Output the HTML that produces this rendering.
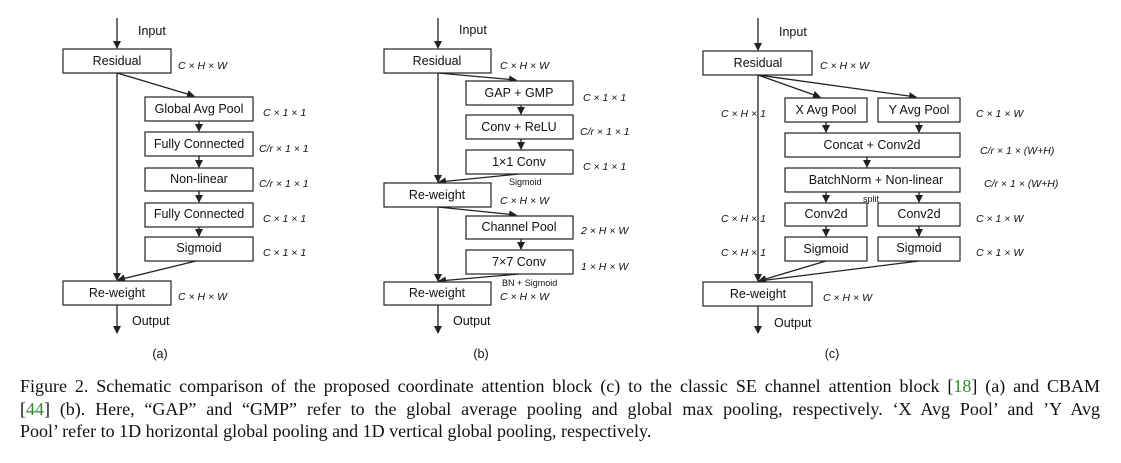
<!DOCTYPE html>
<html><head><meta charset="utf-8"><style>
body{margin:0;background:#fff;width:1121px;height:463px;overflow:hidden;position:relative}
svg{position:absolute;left:0;top:0}
text{font-family:"Liberation Sans",Arial,sans-serif;fill:#111}
.b{font-size:12.5px}
.l{font-size:10.5px;font-style:italic}
.s{font-size:9px}
rect{fill:#fff;stroke:#222;stroke-width:1.2}
line{stroke:#222;stroke-width:1.3}
#cap{position:absolute;left:20px;top:375px;width:1080px;font-family:"Liberation Serif","Times New Roman",serif;font-size:18px;line-height:22.5px;color:#111}
#cap div{white-space:nowrap;text-align:justify;text-align-last:justify}
#cap div.last{text-align:left;text-align-last:left}
#cap span{color:#2a8a2a}
</style></head><body>
<svg width="1121" height="463" viewBox="0 0 1121 463">
<defs><marker id="a" markerWidth="8" markerHeight="8" refX="7" refY="4" orient="auto" markerUnits="userSpaceOnUse"><path d="M0,0 L8,4 L0,8 z" fill="#222"/></marker></defs>
<!-- (a) -->
<line x1="117" y1="18" x2="117" y2="48" marker-end="url(#a)"/>
<text class="b" x="138" y="35">Input</text>
<rect x="63" y="49" width="108" height="24"/><text class="b" x="117" y="65" text-anchor="middle">Residual</text>
<text class="l" x="178" y="69">C × H × W</text>
<line x1="117" y1="73" x2="117" y2="280" marker-end="url(#a)"/>
<line x1="117" y1="73" x2="194" y2="96" marker-end="url(#a)"/>
<rect x="145" y="97" width="108" height="24"/><text class="b" x="199" y="113" text-anchor="middle">Global Avg Pool</text><text class="l" x="263" y="116">C × 1 × 1</text>
<line x1="199" y1="121" x2="199" y2="131" marker-end="url(#a)"/>
<rect x="145" y="132" width="108" height="24"/><text class="b" x="199" y="148" text-anchor="middle">Fully Connected</text><text class="l" x="259" y="152">C/r × 1 × 1</text>
<line x1="199" y1="156" x2="199" y2="167" marker-end="url(#a)"/>
<rect x="145" y="168" width="108" height="23"/><text class="b" x="199" y="183" text-anchor="middle">Non-linear</text><text class="l" x="259" y="187">C/r × 1 × 1</text>
<line x1="199" y1="191" x2="199" y2="202" marker-end="url(#a)"/>
<rect x="145" y="203" width="108" height="24"/><text class="b" x="199" y="218" text-anchor="middle">Fully Connected</text><text class="l" x="263" y="222">C × 1 × 1</text>
<line x1="199" y1="227" x2="199" y2="236" marker-end="url(#a)"/>
<rect x="145" y="237" width="108" height="24"/><text class="b" x="199" y="252" text-anchor="middle">Sigmoid</text><text class="l" x="263" y="256">C × 1 × 1</text>
<line x1="196" y1="261" x2="118" y2="280" marker-end="url(#a)"/>
<rect x="63" y="281" width="108" height="24"/><text class="b" x="117" y="297" text-anchor="middle">Re-weight</text><text class="l" x="178" y="300">C × H × W</text>
<line x1="117" y1="305" x2="117" y2="333" marker-end="url(#a)"/>
<text class="b" x="132" y="325">Output</text>
<text class="b" x="160" y="358" text-anchor="middle">(a)</text>
<!-- (b) -->
<line x1="438" y1="18" x2="438" y2="48" marker-end="url(#a)"/>
<text class="b" x="459" y="34">Input</text>
<rect x="384" y="49" width="107" height="24"/><text class="b" x="437" y="65" text-anchor="middle">Residual</text><text class="l" x="500" y="69">C × H × W</text>
<line x1="438" y1="73" x2="438" y2="182" marker-end="url(#a)"/>
<line x1="438" y1="73" x2="516" y2="80" marker-end="url(#a)"/>
<rect x="466" y="81" width="107" height="24"/><text class="b" x="519" y="97" text-anchor="middle">GAP + GMP</text><text class="l" x="583" y="101">C × 1 × 1</text>
<line x1="521" y1="105" x2="521" y2="114" marker-end="url(#a)"/>
<rect x="466" y="115" width="107" height="24"/><text class="b" x="519" y="131" text-anchor="middle">Conv + ReLU</text><text class="l" x="580" y="135">C/r × 1 × 1</text>
<line x1="521" y1="139" x2="521" y2="149" marker-end="url(#a)"/>
<rect x="466" y="150" width="107" height="24"/><text class="b" x="519" y="166" text-anchor="middle">1×1 Conv</text><text class="l" x="583" y="170">C × 1 × 1</text>
<text class="s" x="509" y="185">Sigmoid</text>
<line x1="519" y1="174" x2="439" y2="182" marker-end="url(#a)"/>
<rect x="384" y="183" width="107" height="24"/><text class="b" x="437" y="199" text-anchor="middle">Re-weight</text><text class="l" x="500" y="204">C × H × W</text>
<line x1="438" y1="207" x2="438" y2="281" marker-end="url(#a)"/>
<line x1="438" y1="207" x2="516" y2="215" marker-end="url(#a)"/>
<rect x="466" y="216" width="107" height="23"/><text class="b" x="519" y="231" text-anchor="middle">Channel Pool</text><text class="l" x="581" y="234">2 × H × W</text>
<line x1="521" y1="239" x2="521" y2="249" marker-end="url(#a)"/>
<rect x="466" y="250" width="107" height="24"/><text class="b" x="519" y="266" text-anchor="middle">7×7 Conv</text><text class="l" x="581" y="270">1 × H × W</text>
<text class="s" x="502" y="286">BN + Sigmoid</text>
<line x1="519" y1="274" x2="439" y2="281" marker-end="url(#a)"/>
<rect x="384" y="282" width="107" height="23"/><text class="b" x="437" y="297" text-anchor="middle">Re-weight</text><text class="l" x="500" y="300">C × H × W</text>
<line x1="438" y1="305" x2="438" y2="333" marker-end="url(#a)"/>
<text class="b" x="453" y="325">Output</text>
<text class="b" x="481" y="358" text-anchor="middle">(b)</text>
<!-- (c) -->
<line x1="758" y1="18" x2="758" y2="50" marker-end="url(#a)"/>
<text class="b" x="779" y="36">Input</text>
<rect x="703" y="51" width="109" height="24"/><text class="b" x="758" y="67" text-anchor="middle">Residual</text><text class="l" x="820" y="69">C × H × W</text>
<line x1="758" y1="75" x2="758" y2="281" marker-end="url(#a)"/>
<line x1="758" y1="75" x2="820" y2="97" marker-end="url(#a)"/>
<line x1="758" y1="75" x2="916" y2="97" marker-end="url(#a)"/>
<text class="l" x="721" y="117">C × H × 1</text>
<rect x="785" y="98" width="82" height="24"/><text class="b" x="826" y="114" text-anchor="middle">X Avg Pool</text>
<rect x="878" y="98" width="82" height="24"/><text class="b" x="919" y="114" text-anchor="middle">Y Avg Pool</text>
<text class="l" x="976" y="117">C × 1 × W</text>
<line x1="826" y1="122" x2="826" y2="132" marker-end="url(#a)"/>
<line x1="919" y1="122" x2="919" y2="132" marker-end="url(#a)"/>
<rect x="785" y="133" width="175" height="24"/><text class="b" x="872" y="149" text-anchor="middle">Concat + Conv2d</text><text class="l" x="980" y="154">C/r × 1 × (W+H)</text>
<line x1="867" y1="157" x2="867" y2="167" marker-end="url(#a)"/>
<rect x="785" y="168" width="175" height="24"/><text class="b" x="876" y="184" text-anchor="middle">BatchNorm + Non-linear</text><text class="l" x="984" y="187">C/r × 1 × (W+H)</text>
<text class="s" x="863" y="202">split</text>
<line x1="826" y1="192" x2="826" y2="202" marker-end="url(#a)"/>
<line x1="919" y1="192" x2="919" y2="202" marker-end="url(#a)"/>
<text class="l" x="721" y="222">C × H × 1</text>
<rect x="785" y="203" width="82" height="23"/><text class="b" x="826" y="218" text-anchor="middle">Conv2d</text>
<rect x="878" y="203" width="82" height="23"/><text class="b" x="919" y="218" text-anchor="middle">Conv2d</text>
<text class="l" x="976" y="222">C × 1 × W</text>
<line x1="826" y1="226" x2="826" y2="236" marker-end="url(#a)"/>
<line x1="919" y1="226" x2="919" y2="236" marker-end="url(#a)"/>
<text class="l" x="721" y="256">C × H × 1</text>
<rect x="785" y="237" width="82" height="24"/><text class="b" x="826" y="253" text-anchor="middle">Sigmoid</text>
<rect x="878" y="237" width="82" height="24"/><text class="b" x="919" y="252" text-anchor="middle">Sigmoid</text>
<text class="l" x="976" y="256">C × 1 × W</text>
<line x1="826" y1="261" x2="759" y2="281" marker-end="url(#a)"/>
<line x1="919" y1="261" x2="759" y2="281" marker-end="url(#a)"/>
<rect x="703" y="282" width="109" height="24"/><text class="b" x="758" y="298" text-anchor="middle">Re-weight</text><text class="l" x="823" y="301">C × H × W</text>
<line x1="758" y1="306" x2="758" y2="333" marker-end="url(#a)"/>
<text class="b" x="774" y="327">Output</text>
<text class="b" x="832" y="358" text-anchor="middle">(c)</text>
</svg>
<div id="cap">
<div>Figure 2. Schematic comparison of the proposed coordinate attention block (c) to the classic SE channel attention block [<span>18</span>] (a) and CBAM</div>
<div>[<span>44</span>] (b). Here, “GAP” and “GMP” refer to the global average pooling and global max pooling, respectively. ‘X Avg Pool’ and ’Y Avg</div>
<div class="last">Pool’ refer to 1D horizontal global pooling and 1D vertical global pooling, respectively.</div>
</div>
</body></html>
